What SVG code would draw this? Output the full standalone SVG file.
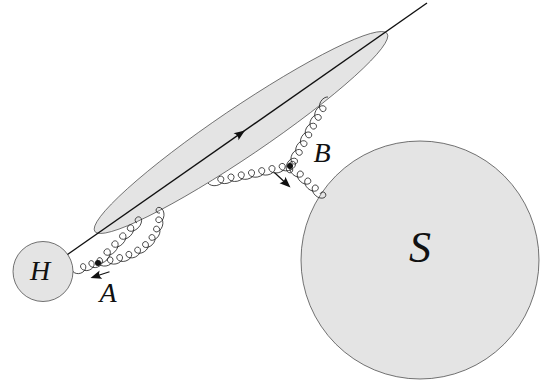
<svg xmlns="http://www.w3.org/2000/svg" width="545" height="385" viewBox="0 0 545 385">
<style>
.blob{fill:#e4e4e4;stroke:#3a3a3a;stroke-width:0.7}
.g{fill:none;stroke:#1a1a1a;stroke-width:0.8}
.ln{fill:none;stroke:#111;stroke-width:1.4}
.ar{fill:none;stroke:#111;stroke-width:1.2}
.hd{fill:#111;stroke:none}
.dot{fill:#111}
.lbl{font-family:"Liberation Serif","Times New Roman",serif;font-style:italic;fill:#111;text-anchor:middle}
</style>
<defs>
<path id="gp" vector-effect="non-scaling-stroke" d="M0,0c.86,2.27 4.03,4.2 7.7,4.2c3.67,0 6.84,-1.93 7.7,-4.2c.86,-2.27 -.75,-4.2 -2.7,-4.2c-1.95,0 -3.56,1.93 -2.7,4.2"/>
<path id="ah" d="M0,0L-11,-4.3Q-7.5,0 -11,4.3Z"/>
</defs>
<g id="jet"><circle class="blob" vector-effect="non-scaling-stroke" cx="0" cy="0" r="1" transform="matrix(144,-100.5,-28.78,-9.79,241,132.5)"/></g>
<g id="H"><circle class="blob" cx="43" cy="271.5" r="30"/><text class="lbl" x="40" y="280" font-size="28">H</text></g>
<g id="S"><circle class="blob" cx="420" cy="260" r="119"/><text class="lbl" x="420" y="262" font-size="44">S</text></g>
<g id="connectors">
<line class="ln" x1="67.5" y1="254.5" x2="427" y2="3"/>
<use class="hd" href="#ah" transform="translate(245,130.4) rotate(-34.95)"/>
<path class="g" vector-effect="non-scaling-stroke" transform="translate(73,271.5) rotate(-19.8) scale(0.886,1)" d="M0,0c.86,2.27 4.03,4.2 7.7,4.2c3.67,0 6.84,-1.93 7.7,-4.2c.86,-2.27 -.75,-4.2 -2.7,-4.2c-1.95,0 -3.56,1.93 -2.7,4.2c.86,2.27 4.03,4.2 7.7,4.2c3.67,0 6.84,-1.93 7.7,-4.2c.86,-2.27 -.75,-4.2 -2.7,-4.2c-1.95,0 -3.56,1.93 -2.7,4.2c.86,2.27 4.03,4.2 7.7,4.2c3.67,0 6.84,-1.93 7.7,-4.2c.86,-2.27 -.75,-4.2 -2.7,-4.2c-1.95,0 -3.56,1.93 -2.7,4.2"/>
<path class="g" vector-effect="non-scaling-stroke" transform="translate(98,263) rotate(-45.7) scale(1.118,1)" d="M0,0c.86,2.27 4.03,4.2 7.7,4.2c3.67,0 6.84,-1.93 7.7,-4.2c.86,-2.27 -.75,-4.2 -2.7,-4.2c-1.95,0 -3.56,1.93 -2.7,4.2c.86,2.27 4.03,4.2 7.7,4.2c3.67,0 6.84,-1.93 7.7,-4.2c.86,-2.27 -.75,-4.2 -2.7,-4.2c-1.95,0 -3.56,1.93 -2.7,4.2c.86,2.27 4.03,4.2 7.7,4.2c3.67,0 6.84,-1.93 7.7,-4.2c.86,-2.27 -.75,-4.2 -2.7,-4.2c-1.95,0 -3.56,1.93 -2.7,4.2c.86,2.27 4.03,4.2 7.7,4.2c3.67,0 6.84,-1.93 7.7,-4.2c.86,-2.27 -.75,-4.2 -2.7,-4.2c-1.95,0 -3.56,1.93 -2.7,4.2c.86,2.27 4.03,4.2 7.7,4.2c3.67,0 6.84,-1.93 7.7,-4.2c.86,-2.27 -.75,-4.2 -2.7,-4.2c-1.95,0 -3.56,1.93 -2.7,4.2"/>
<g class="g">
<use href="#gp" transform="translate(98,263) rotate(-8.96) scale(0.982,1)"/>
<use href="#gp" transform="translate(107.77,261.46) rotate(-12.81) scale(0.982,1)"/>
<use href="#gp" transform="translate(117.36,259.28) rotate(-17.68) scale(0.982,1)"/>
<use href="#gp" transform="translate(126.71,256.3) rotate(-24.21) scale(0.982,1)"/>
<use href="#gp" transform="translate(135.63,252.29) rotate(-32.73) scale(0.982,1)"/>
<use href="#gp" transform="translate(143.83,247.02) rotate(-43.96) scale(0.982,1)"/>
<use href="#gp" transform="translate(150.85,240.25) rotate(-57.68) scale(0.982,1)"/>
<use href="#gp" transform="translate(156.05,232.03) rotate(-71.96) scale(0.982,1)"/>
<use href="#gp" transform="translate(159.07,222.76) rotate(-84.56) scale(0.982,1)"/>
</g>
<path class="g" vector-effect="non-scaling-stroke" transform="translate(208,183) rotate(-11.7) scale(1.046,1)" d="M0,0c.86,2.27 4.03,4.2 7.7,4.2c3.67,0 6.84,-1.93 7.7,-4.2c.86,-2.27 -.75,-4.2 -2.7,-4.2c-1.95,0 -3.56,1.93 -2.7,4.2c.86,2.27 4.03,4.2 7.7,4.2c3.67,0 6.84,-1.93 7.7,-4.2c.86,-2.27 -.75,-4.2 -2.7,-4.2c-1.95,0 -3.56,1.93 -2.7,4.2c.86,2.27 4.03,4.2 7.7,4.2c3.67,0 6.84,-1.93 7.7,-4.2c.86,-2.27 -.75,-4.2 -2.7,-4.2c-1.95,0 -3.56,1.93 -2.7,4.2c.86,2.27 4.03,4.2 7.7,4.2c3.67,0 6.84,-1.93 7.7,-4.2c.86,-2.27 -.75,-4.2 -2.7,-4.2c-1.95,0 -3.56,1.93 -2.7,4.2c.86,2.27 4.03,4.2 7.7,4.2c3.67,0 6.84,-1.93 7.7,-4.2c.86,-2.27 -.75,-4.2 -2.7,-4.2c-1.95,0 -3.56,1.93 -2.7,4.2c.86,2.27 4.03,4.2 7.7,4.2c3.67,0 6.84,-1.93 7.7,-4.2c.86,-2.27 -.75,-4.2 -2.7,-4.2c-1.95,0 -3.56,1.93 -2.7,4.2c.86,2.27 4.03,4.2 7.7,4.2c3.67,0 6.84,-1.93 7.7,-4.2c.86,-2.27 -.75,-4.2 -2.7,-4.2c-1.95,0 -3.56,1.93 -2.7,4.2c.86,2.27 4.03,4.2 7.7,4.2c3.67,0 6.84,-1.93 7.7,-4.2c.86,-2.27 -.75,-4.2 -2.7,-4.2c-1.95,0 -3.56,1.93 -2.7,4.2"/>
<path class="g" vector-effect="non-scaling-stroke" transform="translate(328,97) rotate(118.5) scale(0.995,1)" d="M0,0c.86,2.27 4.03,4.2 7.7,4.2c3.67,0 6.84,-1.93 7.7,-4.2c.86,-2.27 -.75,-4.2 -2.7,-4.2c-1.95,0 -3.56,1.93 -2.7,4.2c.86,2.27 4.03,4.2 7.7,4.2c3.67,0 6.84,-1.93 7.7,-4.2c.86,-2.27 -.75,-4.2 -2.7,-4.2c-1.95,0 -3.56,1.93 -2.7,4.2c.86,2.27 4.03,4.2 7.7,4.2c3.67,0 6.84,-1.93 7.7,-4.2c.86,-2.27 -.75,-4.2 -2.7,-4.2c-1.95,0 -3.56,1.93 -2.7,4.2c.86,2.27 4.03,4.2 7.7,4.2c3.67,0 6.84,-1.93 7.7,-4.2c.86,-2.27 -.75,-4.2 -2.7,-4.2c-1.95,0 -3.56,1.93 -2.7,4.2c.86,2.27 4.03,4.2 7.7,4.2c3.67,0 6.84,-1.93 7.7,-4.2c.86,-2.27 -.75,-4.2 -2.7,-4.2c-1.95,0 -3.56,1.93 -2.7,4.2c.86,2.27 4.03,4.2 7.7,4.2c3.67,0 6.84,-1.93 7.7,-4.2c.86,-2.27 -.75,-4.2 -2.7,-4.2c-1.95,0 -3.56,1.93 -2.7,4.2c.86,2.27 4.03,4.2 7.7,4.2c3.67,0 6.84,-1.93 7.7,-4.2c.86,-2.27 -.75,-4.2 -2.7,-4.2c-1.95,0 -3.56,1.93 -2.7,4.2c.86,2.27 4.03,4.2 7.7,4.2c3.67,0 6.84,-1.93 7.7,-4.2c.86,-2.27 -.75,-4.2 -2.7,-4.2c-1.95,0 -3.56,1.93 -2.7,4.2"/>
<path class="g" vector-effect="non-scaling-stroke" transform="translate(290,166) rotate(43) scale(1.025,1)" d="M0,0c.86,2.27 4.03,4.2 7.7,4.2c3.67,0 6.84,-1.93 7.7,-4.2c.86,-2.27 -.75,-4.2 -2.7,-4.2c-1.95,0 -3.56,1.93 -2.7,4.2c.86,2.27 4.03,4.2 7.7,4.2c3.67,0 6.84,-1.93 7.7,-4.2c.86,-2.27 -.75,-4.2 -2.7,-4.2c-1.95,0 -3.56,1.93 -2.7,4.2c.86,2.27 4.03,4.2 7.7,4.2c3.67,0 6.84,-1.93 7.7,-4.2c.86,-2.27 -.75,-4.2 -2.7,-4.2c-1.95,0 -3.56,1.93 -2.7,4.2c.86,2.27 4.03,4.2 7.7,4.2c3.67,0 6.84,-1.93 7.7,-4.2c.86,-2.27 -.75,-4.2 -2.7,-4.2c-1.95,0 -3.56,1.93 -2.7,4.2"/>
<line class="ar" x1="109.5" y1="271.8" x2="97.2" y2="275.8"/>
<use class="hd" href="#ah" transform="translate(90.5,278) rotate(162)"/>
<line class="ar" x1="274.4" y1="172.5" x2="285.4" y2="182.7"/>
<use class="hd" href="#ah" transform="translate(290.5,187.5) rotate(43)"/>
</g>
<g id="A"><circle class="dot" cx="98" cy="263" r="3"/><text class="lbl" x="108" y="302" font-size="28">A</text></g>
<g id="B"><circle class="dot" cx="290" cy="166" r="3"/><text class="lbl" x="322" y="162" font-size="28">B</text></g>
</svg>
